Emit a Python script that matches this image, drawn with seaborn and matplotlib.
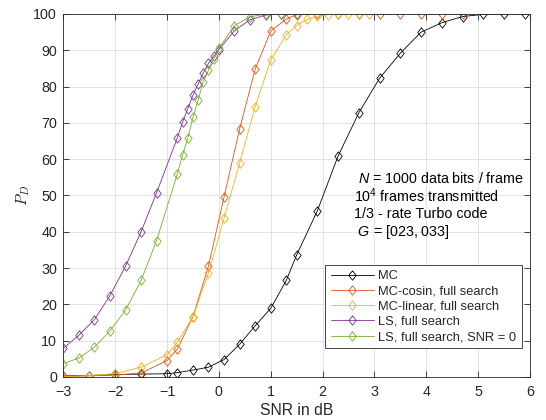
import matplotlib
matplotlib.use("Agg")
import matplotlib.pyplot as plt
import seaborn as sns

# SNR grids (dB) and detection probability (%)
snr_mc = [-3, -2.5, -2, -1.5, -1, -0.8, -0.5, -0.2, 0.1, 0.4, 0.7, 1.0, 1.3,
          1.5, 1.9, 2.3, 2.7, 3.1, 3.5, 3.9, 4.3, 4.7, 5.1, 5.5, 5.9]
pd_mc = [0.3, 0.4, 0.7, 0.8, 0.9, 1.2, 1.9, 2.7, 4.8, 9.0, 14.1, 18.9, 26.6,
         33.6, 45.8, 60.9, 72.8, 82.3, 89.2, 95.0, 97.6, 99.3, 99.9, 100, 100]

snr_cos = [-3, -2.5, -2, -1.5, -1, -0.8, -0.5, -0.2, 0.1, 0.4, 0.7, 1.0, 1.3,
           1.5, 1.9, 2.3, 2.7, 3.1, 3.5, 3.9, 4.3, 4.7]
pd_cos = [0.2, 0.3, 0.5, 1.1, 4.5, 7.7, 16.6, 30.6, 49.6, 68.3, 84.8, 95.3,
          98.6, 99.8, 100, 100, 100, 100, 100, 100, 100, 100]

snr_lin = [-3, -2.5, -2, -1.5, -1, -0.8, -0.5, -0.2, 0.1, 0.4, 0.7, 1.0, 1.3,
           1.5, 1.7, 1.9, 2.1, 2.3, 2.5, 2.7, 2.9]
pd_lin = [0.1, 0.4, 0.9, 2.7, 6.1, 9.6, 16.6, 28.6, 43.8, 58.9, 74.5, 87.3,
          94.2, 96.8, 98.5, 99.4, 99.8, 100, 100, 100, 100]

snr_ls = [-3, -2.7, -2.4, -2.1, -1.8, -1.5, -1.2, -0.8, -0.7, -0.6, -0.5,
          -0.4, -0.3, -0.2, -0.1, 0, 0.3, 0.6, 0.9, 1.2, 1.5]
pd_ls = [7.9, 11.5, 15.8, 22.4, 30.5, 40.0, 50.8, 65.9, 70.2, 73.9, 77.6,
         80.7, 83.8, 86.4, 88.3, 90.2, 95.4, 98.4, 99.7, 100, 100]
pd_ls0 = [3.7, 5.2, 8.2, 12.7, 18.4, 26.6, 37.6, 56.0, 61.2, 65.7, 71.5,
          76.3, 81.4, 84.5, 87.6, 90.5, 96.8, 99.2, 100, 100, 100]

labels = ["MC", "MC-cosin, full search", "MC-linear, full search",
          "LS, full search", "LS, full search, SNR = 0"]
colors = ["#000000", "#D95319", "#EDB120", "#7E2F8E", "#77AC30"]

info_lines = [r"$N$ = 1000 data bits / frame",
              r"$10^4$ frames transmitted",
              "1/3 - rate Turbo code",
              r" $G$ = [023, 033]"]

sns.set_theme(style="whitegrid")
plt.rcParams["font.family"] = ["Liberation Sans", "DejaVu Sans"]
plt.rcParams["mathtext.fontset"] = "custom"
plt.rcParams["mathtext.rm"] = "Liberation Sans"
plt.rcParams["mathtext.it"] = "Liberation Sans:italic"
plt.rcParams["mathtext.sf"] = "Liberation Sans"

diamond = [(0, 1), (0.78, 0), (0, -1), (-0.78, 0), (0, 1)]
ink = "#262626"

fig = plt.figure(figsize=(5.46, 4.2), dpi=100)
ax = fig.add_axes([0.1159, 0.1024, 0.8548, 0.8643])

series = [(snr_mc, pd_mc), (snr_cos, pd_cos), (snr_lin, pd_lin),
          (snr_ls, pd_ls), (snr_ls, pd_ls0)]
for (xs, ys), lab, col in zip(series, labels, colors):
    sns.lineplot(x=xs, y=ys, ax=ax, color=col, label=lab, linewidth=0.6,
                 marker=diamond, markersize=6.8, markerfacecolor="none",
                 markeredgecolor=col, markeredgewidth=0.6)

ax.set_xlim(-3, 6)
ax.set_ylim(0, 100)
ax.set_xticks(range(-3, 7))
ax.set_yticks(range(0, 101, 10))
ax.grid(True, color="#dedede", linewidth=0.6)
for s in ax.spines.values():
    s.set_color(ink)
    s.set_linewidth(0.6)
ax.tick_params(direction="in", length=4, width=0.6, top=True, right=True,
               bottom=True, left=True, colors=ink, labelsize=10.3)
ax.tick_params(axis="x", pad=6)
ax.tick_params(axis="y", pad=4.5)

ax.set_xlabel("SNR in dB", fontsize=11.3, color=ink, labelpad=3)
ax.set_ylabel(r"$P_D$", fontsize=11.5, color=ink, labelpad=1,
              math_fontfamily="cm")

text_x = [2.69, 2.61, 2.61, 2.61]
text_y = [53.5, 48.3, 43.9, 38.8]
for tx, ty, line in zip(text_x, text_y, info_lines):
    ax.text(tx, ty, line, fontsize=10.3, color="black", ha="left",
            va="baseline")

leg = ax.legend(loc="lower right", bbox_to_anchor=(0.982, 0.079),
                borderaxespad=0, fontsize=9.3, frameon=True, fancybox=False,
                edgecolor=ink, framealpha=1, handlelength=3.4,
                handletextpad=0.3, borderpad=0.4, labelspacing=0.25)
leg.get_frame().set_linewidth(0.6)

fig.savefig("out.png", dpi=100)
plt.close(fig)
